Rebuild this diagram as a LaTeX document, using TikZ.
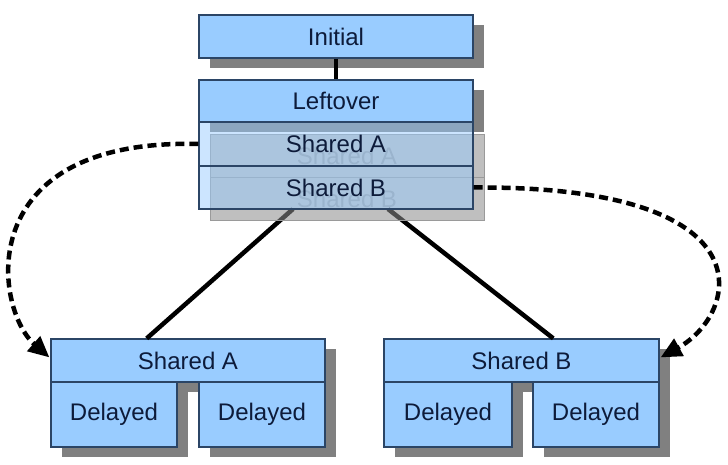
\documentclass[tikz,border=0pt]{standalone}
\usepackage{fontspec}
\setmainfont{Liberation Sans}
\usetikzlibrary{calc,shadows,arrows.meta}
\definecolor{boxblue}{HTML}{99CCFF}
\definecolor{bordercol}{HTML}{2B4566}
\definecolor{textcol}{HTML}{0D1B3A}
\definecolor{shadowgray}{HTML}{808080}
\definecolor{ghostgray}{HTML}{8C8C8C}
\definecolor{ghostline}{HTML}{9A9A9A}
\definecolor{ghosttext}{HTML}{9C9C9C}
\begin{document}
\begin{tikzpicture}[x={(1pt,0)},y={(0,-1pt)},
  box/.style={draw=bordercol, line width=1.2pt, fill=boxblue, text=textcol,
    minimum height=43pt, inner sep=0pt, font=\fontsize{24}{28}\selectfont},
  shadowed/.style={drop shadow={shadow xshift=11pt, shadow yshift=-10pt, fill=shadowgray, opacity=1}},
  glassrow/.style={box, fill opacity=0.5, text opacity=1, draw opacity=1},
  ghostrow/.style={draw=ghostline, line width=0.8pt, fill=ghostgray, fill opacity=0.56,
    minimum width=274pt, minimum height=43pt, inner sep=0pt},
  ghostlabel/.style={text=ghosttext, inner sep=0pt, font=\fontsize{24}{28}\selectfont},
  conn/.style={line width=4.5pt, black},
  dashconn/.style={line width=4.5pt, black, dash pattern=on 9pt off 5pt,
    -{Triangle[length=21pt,width=19pt]}}]
\useasboundingbox (0,0) rectangle (728,465);

% top
\node[box, shadowed, minimum width=274pt] (init) at (336,36.5) {Initial};
\node[box, shadowed, minimum width=274pt, minimum height=42pt] (left) at (336,101) {Leftover};

% bottom left group
\node[box, shadowed, minimum width=274pt] (sa) at (188,360.5) {Shared A};
\node[box, shadowed, minimum width=126pt, minimum height=65pt] (da1) at (114,414.5) {Delayed};
\node[box, shadowed, minimum width=126pt, minimum height=65pt] (da2) at (262,414.5) {Delayed};

% bottom right group
\node[box, shadowed, minimum width=275pt] (sb) at (521.5,360.5) {Shared B};
\node[box, shadowed, minimum width=128pt, minimum height=65pt] (db1) at (448,414.5) {Delayed};
\node[box, shadowed, minimum width=126pt, minimum height=65pt] (db2) at (596,414.5) {Delayed};

% coordinates on the stack
\coordinate (stackL) at (293,209);
\coordinate (stackR) at (388,209);

% solid connectors to bottom groups (behind the ghost)
\draw[conn] (stackL) -- ($(sa.north west)!0.35!(sa.north east)$);
\draw[conn] (stackR) -- ($(sb.north west)!0.615!(sb.north east)$);

% ghost rows
\node[ghostrow] (gha) at (347,155.5) {};
\node[ghostrow] (ghb) at (347,198.5) {};
\node[ghostlabel] at (gha) {Shared A};
\node[ghostlabel] at (ghb) {Shared B};

% front translucent rows
\node[glassrow, minimum width=274pt, minimum height=44pt] (rowa) at (336,144) {Shared A};
\node[glassrow, minimum width=274pt, minimum height=43pt] (rowb) at (336,187.5) {Shared B};

% connector initial -> leftover
\draw[conn] (init.south) -- (left.north);

% dashed arrows
\coordinate (tipA) at ($(sa.north west)+(-1,19)$);
\coordinate (tipB) at ($(sb.north east)+(1,19)$);
\draw[dashconn] (rowa.west) .. controls +(-229,-6) and +(-55,-48) .. (tipA);
\draw[dashconn] (rowb.east) .. controls +(300,-2) and +(78,-43) .. (tipB);
\end{tikzpicture}
\end{document}
